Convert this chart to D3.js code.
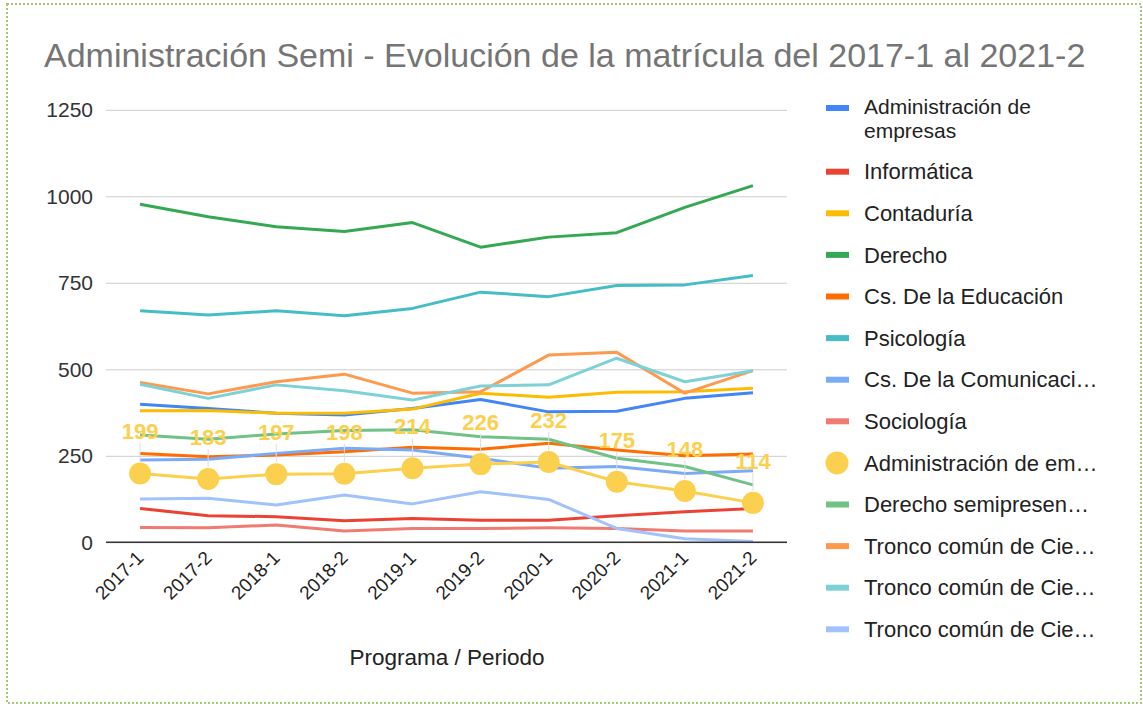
<!DOCTYPE html>
<html>
<head>
<meta charset="utf-8">
<script src="https://cdn.jsdelivr.net/npm/d3@7"></script>
<style>
  body { margin: 0; background: #fff; }
  svg { display: block; font-family: "Liberation Sans", Arial, sans-serif; }
</style>
</head>
<body>
<div id="chart"></div>
<script>
// periods on the x axis
var periods = ["2017-1", "2017-2", "2018-1", "2018-2", "2019-1", "2019-2", "2020-1", "2020-2", "2021-1", "2021-2"];
var yTicks = [0, 250, 500, 750, 1000, 1250];

// series values
var adminEmpresas   = [399, 387, 373, 368, 387, 413, 377, 379, 416, 432];
var informatica     = [98, 77, 74, 62, 69, 64, 64, 77, 88, 98];
var contaduria      = [380, 381, 373, 373, 385, 431, 419, 434, 435, 445];
var derecho         = [977, 941, 912, 898, 924, 853, 882, 895, 968, 1031];
var csEducacion     = [257, 247, 252, 262, 275, 269, 286, 267, 250, 255];
var psicologia      = [669, 657, 669, 655, 676, 723, 710, 742, 744, 771];
var csComunicacion  = [238, 240, 257, 272, 267, 243, 214, 219, 199, 207];
var sociologia      = [43, 42, 50, 33, 40, 40, 42, 40, 33, 33];
var adminSemi       = [199, 183, 197, 198, 214, 226, 232, 175, 148, 114];
var derechoSemi     = [310, 298, 313, 323, 325, 305, 298, 243, 219, 166];
var troncoA         = [462, 429, 464, 486, 431, 435, 541, 549, 431, 496];
var troncoB         = [457, 416, 455, 438, 411, 452, 455, 532, 464, 496];
var troncoC         = [125, 127, 108, 137, 111, 146, 124, 40, 10, 2];

var seriesNames = [
  ["Administración de", "empresas"], ["Informática"], ["Contaduría"], ["Derecho"],
  ["Cs. De la Educación"], ["Psicología"], ["Cs. De la Comunicaci…"], ["Sociología"],
  ["Administración de em…"], ["Derecho semipresen…"], ["Tronco común de Cie…"],
  ["Tronco común de Cie…"], ["Tronco común de Cie…"]
];
var seriesValues = [adminEmpresas, informatica, contaduria, derecho, csEducacion, psicologia,
  csComunicacion, sociologia, adminSemi, derechoSemi, troncoA, troncoB, troncoC];
var colors = ["#4285f4", "#ea4335", "#fbbc04", "#34a853", "#ff6d01", "#46bdc6",
  "#7baaf7", "#f07b72", "#fcd04f", "#71c287", "#ff994d", "#7ed1d7", "#a1c2fa"];
var pointSeries = 8; // the one drawn with dots and labels

var W = 1143, H = 707;
var svg = d3.select("#chart").append("svg").attr("width", W).attr("height", H);

// dotted frame
svg.append("rect")
  .attr("x", 7).attr("y", 4).attr("width", 1134).attr("height", 699)
  .attr("fill", "none").attr("stroke", "#a9c76e").attr("stroke-width", 2)
  .attr("stroke-dasharray", "2,2");

svg.append("text")
  .attr("x", 44).attr("y", 67)
  .attr("font-size", 34).attr("fill", "#757575")
  .text("Administración Semi - Evolución de la matrícula del 2017-1 al 2021-2");

var x = d3.scaleBand().domain(periods).range([106, 787]);
var y = d3.scaleLinear().domain([0, 1250]).range([542.3, 109.8]);

// gridlines + y labels
var yAxis = svg.append("g")
  .attr("transform", "translate(106,0)")
  .call(d3.axisLeft(y).tickValues(yTicks).tickFormat(d3.format("d")).tickSize(-681).tickPadding(13));
yAxis.select(".domain").remove();
yAxis.selectAll(".tick line").attr("stroke", "#cccccc");
yAxis.selectAll(".tick text").attr("font-size", 21).attr("fill", "#333").attr("font-family", null);

// x labels
var xAxis = svg.append("g")
  .attr("transform", "translate(0,542.3)")
  .call(d3.axisBottom(x).tickSize(0));
xAxis.select(".domain").remove();
xAxis.selectAll(".tick text")
  .attr("font-size", 19).attr("fill", "#222").attr("font-family", null)
  .attr("text-anchor", "end")
  .attr("transform", "translate(0,12) rotate(-45)")
  .attr("dy", "0.35em").attr("y", 0);

svg.append("text")
  .attr("x", 447).attr("y", 665)
  .attr("text-anchor", "middle")
  .attr("font-size", 22.5).attr("fill", "#222")
  .text("Programa / Periodo");

// lines
var line = d3.line()
  .x(function(d, i) { return x(periods[i]) + x.bandwidth() / 2; })
  .y(function(d) { return y(d); });

seriesValues.forEach(function(vals, k) {
  svg.append("path")
    .datum(vals)
    .attr("d", line)
    .attr("fill", "none")
    .attr("stroke", colors[k])
    .attr("stroke-width", 3)
    .attr("stroke-linejoin", "round");
  if (k === pointSeries) {
    svg.selectAll(".pt")
      .data(vals).enter()
      .append("circle")
      .attr("cx", function(d, i) { return x(periods[i]) + x.bandwidth() / 2; })
      .attr("cy", function(d) { return y(d); })
      .attr("r", 11)
      .attr("fill", colors[k]);
  }
});

// zero baseline on top
svg.append("line")
  .attr("x1", 106).attr("x2", 787)
  .attr("y1", y(0)).attr("y2", y(0))
  .attr("stroke", "#333").attr("stroke-width", 1.5);

// data labels for the dotted series
var lab = svg.append("g");
adminSemi.forEach(function(v, i) {
  var cx = x(periods[i]) + x.bandwidth() / 2;
  lab.append("line")
    .attr("x1", cx).attr("x2", cx)
    .attr("y1", y(v) - 30).attr("y2", y(v) - 12)
    .attr("stroke", "#dddddd").attr("stroke-width", 1);
  lab.append("text")
    .attr("x", cx).attr("y", y(v) - 34)
    .attr("text-anchor", "middle")
    .attr("font-size", 22).attr("font-weight", "bold")
    .attr("fill", colors[pointSeries])
    .text(v);
});

// legend
var legendY = [108];
for (var i = 1; i < seriesNames.length; i++) legendY.push(171.7 + 41.6 * (i - 1));

var legend = svg.append("g");
seriesNames.forEach(function(name, k) {
  var ly = legendY[k];
  if (k === pointSeries) {
    legend.append("circle").attr("cx", 837).attr("cy", ly).attr("r", 11.5).attr("fill", colors[k]);
  } else {
    legend.append("rect").attr("x", 826).attr("y", ly - 3).attr("width", 23).attr("height", 6)
      .attr("fill", colors[k]);
  }
  name.forEach(function(t, j) {
    legend.append("text")
      .attr("x", 864).attr("y", ly - (name.length > 1 ? 1 : 0) + j * 24)
      .attr("dy", "0.35em")
      .attr("font-size", name.length > 1 ? 21 : 22).attr("fill", "#222")
      .text(t);
  });
});
</script>
</body>
</html>
